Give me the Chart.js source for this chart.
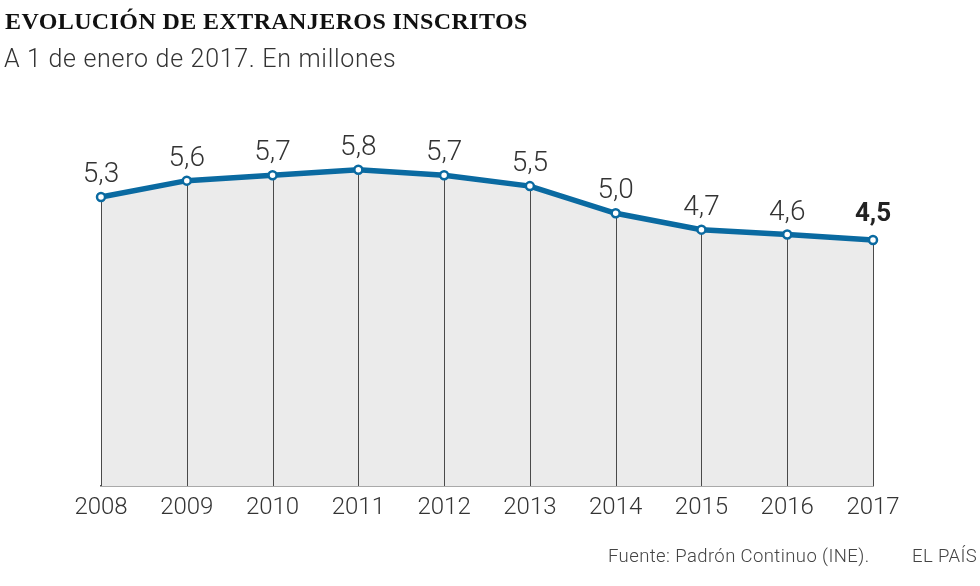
<!DOCTYPE html>
<html>
<head>
<meta charset="utf-8">
<script src="https://cdn.jsdelivr.net/npm/chart.js@4/dist/chart.umd.min.js"></script>
<style>
  html, body { margin: 0; padding: 0; background: #fff; }
  #wrap { position: relative; width: 980px; height: 586px; overflow: hidden; }
  #grafico { position: absolute; left: 0; top: 0; }
  .titulo { position: absolute; left: 5px; top: 8px; font-family: "Liberation Serif", serif; font-weight: bold; font-size: 24px; color: #111; letter-spacing: 0.4px; white-space: nowrap; }
  .subtitulo { position: absolute; left: 4px; top: 44px; font-family: Roboto, sans-serif; font-weight: 300; font-size: 25px; color: #333; letter-spacing: 0.7px; white-space: nowrap; }
  .fuente { position: absolute; top: 545px; font-family: Roboto, sans-serif; font-weight: 300; font-size: 18.5px; color: #444; letter-spacing: 0.4px; white-space: nowrap; }
</style>
</head>
<body>
<div id="wrap">
  <canvas id="grafico" width="980" height="586"></canvas>
  <div class="titulo">EVOLUCIÓN DE EXTRANJEROS INSCRITOS</div>
  <div class="subtitulo">A 1 de enero de 2017. En millones</div>
  <div class="fuente" style="left:608px">Fuente: Padrón Continuo (INE).</div>
  <div class="fuente" style="left:912px">EL PAÍS</div>
</div>
<script>
// datos (millones de extranjeros inscritos)
const anios = ['2008', '2009', '2010', '2011', '2012', '2013', '2014', '2015', '2016', '2017'];
const extranjeros = [5.31, 5.61, 5.71, 5.81, 5.71, 5.51, 5.01, 4.71, 4.62, 4.52];
const etiquetas = ['5,3', '5,6', '5,7', '5,8', '5,7', '5,5', '5,0', '4,7', '4,6', '4,5'];

const azul = '#0a6aa1';

// lineas verticales desde cada punto hasta la base (encima del relleno)
const lineasVerticales = {
    id: 'lineasVerticales',
    beforeDatasetDraw(chart) {
        const {ctx, scales: {y}} = chart;
        const meta = chart.getDatasetMeta(0);
        const base = y.getPixelForValue(0);
        ctx.save();
        ctx.strokeStyle = '#4a4a4a';
        ctx.lineWidth = 1;
        meta.data.forEach(p => {
            ctx.beginPath();
            ctx.moveTo(Math.round(p.x) + 0.5, p.y);
            ctx.lineTo(Math.round(p.x) + 0.5, base);
            ctx.stroke();
        });
        ctx.restore();
    }
};

// etiquetas de valor encima de los puntos
const etiquetasValor = {
    id: 'etiquetasValor',
    afterDatasetsDraw(chart) {
        const {ctx} = chart;
        const meta = chart.getDatasetMeta(0);
        ctx.save();
        ctx.textAlign = 'center';
        ctx.textBaseline = 'alphabetic';
        meta.data.forEach((p, i) => {
            const ultimo = i === etiquetas.length - 1;
            ctx.font = ultimo ? 'bold 26px Roboto' : '300 28px Roboto';
            ctx.fillStyle = ultimo ? '#222' : '#333';
            ctx.fillText(etiquetas[i], p.x, p.y - (ultimo ? 19 : 15));
        });
        ctx.restore();
    }
};

const chart = new Chart(document.getElementById('grafico'), {
    type: 'line',
    data: {
        labels: anios,
        datasets: [{
            data: extranjeros,
            borderColor: azul,
            borderWidth: 5.5,
            backgroundColor: '#ebebeb',
            fill: 'origin',
            tension: 0,
            pointRadius: 4,
            pointBorderWidth: 2.5,
            pointBackgroundColor: '#fff',
            pointBorderColor: azul,
        }]
    },
    options: {
        responsive: false,
        animation: false,
        layout: {
            padding: {left: 101, right: 107, top: 105, bottom: 64}
        },
        plugins: {
            legend: {display: false},
            tooltip: {enabled: false},
        },
        scales: {
            x: {
                offset: false,
                grid: {display: false},
                border: {display: true, color: '#555', width: 1.5},
                ticks: {
                    color: '#333',
                    font: {family: 'Roboto', size: 24, weight: '300', lineHeight: 1},
                    padding: 2,
                    maxRotation: 0,
                }
            },
            y: {
                display: false,
                min: 0,
                max: 7,
            }
        }
    },
    plugins: [lineasVerticales, etiquetasValor]
});
</script>
</body>
</html>
